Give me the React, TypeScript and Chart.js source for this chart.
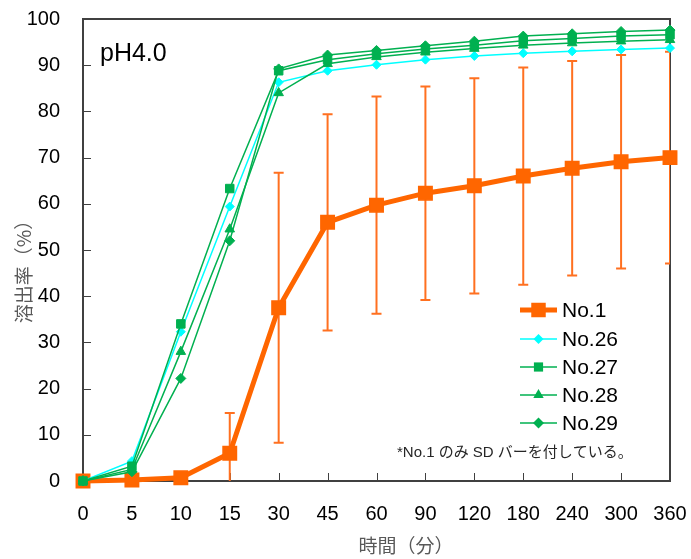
import { useEffect, useRef } from 'react';
import { Chart, registerables } from 'chart.js';

Chart.register(...registerables);

const times = ['0', '5', '10', '15', '30', '45', '60', '90', '120', '180', '240', '300', '360'];
const no1 = [0, 0.2, 0.7, 6.0, 37.5, 56.0, 59.7, 62.3, 63.9, 66.0, 67.7, 69.1, 70.0];
const no1Sd = [0, 0, 0, 8.7, 29.2, 23.4, 23.5, 23.1, 23.3, 23.5, 23.2, 23.1, 22.9];
const no26 = [0, 4.3, 32.3, 59.4, 86.3, 88.8, 90.1, 91.2, 92.0, 92.6, 93.0, 93.4, 93.7];
const no27 = [0, 3.2, 34.0, 63.3, 88.8, 91.2, 92.5, 93.5, 94.3, 95.3, 95.8, 96.3, 96.6];
const no28 = [0, 2.5, 28.0, 54.5, 84.0, 90.3, 91.8, 92.8, 93.6, 94.3, 94.8, 95.2, 95.5];
const no29 = [0, 2.0, 22.2, 52.0, 89.2, 92.2, 93.2, 94.2, 95.2, 96.3, 96.8, 97.3, 97.6];
const seriesNames = ['No.1', 'No.26', 'No.27', 'No.28', 'No.29'];

const ORANGE = '#FF6600';
const CYAN = '#00FFFF';
const GREEN = '#00B050';
const FONT = '"Liberation Sans", Arial, "Noto Sans CJK JP", sans-serif';
const JFONT = '"Noto Sans CJK JP", "Liberation Sans", sans-serif';

function drawMarker(ctx: CanvasRenderingContext2D, style: string, x: number, y: number, r: number, color: string) {
  ctx.save();
  ctx.fillStyle = color;
  ctx.beginPath();
  if (style === 'rect') {
    const s = Math.SQRT1_2 * r;
    ctx.rect(x - s, y - s, 2 * s, 2 * s);
  } else if (style === 'rectRot') {
    ctx.moveTo(x, y - r);
    ctx.lineTo(x + r, y);
    ctx.lineTo(x, y + r);
    ctx.lineTo(x - r, y);
    ctx.closePath();
  } else if (style === 'triangle') {
    ctx.moveTo(x, y - r);
    ctx.lineTo(x + r * 0.866, y + r / 2);
    ctx.lineTo(x - r * 0.866, y + r / 2);
    ctx.closePath();
  }
  ctx.fill();
  ctx.restore();
}

const decorPlugin = {
  id: 'decor',
  beforeDatasetsDraw(chart: any) {
    const { ctx, chartArea: a, scales } = chart;
    const xs = scales.x;
    const ys = scales.y;
    ctx.save();
    ctx.strokeStyle = '#404040';
    ctx.lineWidth = 2;
    ctx.strokeRect(a.left, a.top, a.right - a.left, a.bottom - a.top);
    ctx.lineWidth = 1;
    ctx.strokeStyle = '#404040';
    ys.ticks.forEach((t: any) => {
      const py = Math.round(ys.getPixelForValue(t.value)) + 0.5;
      ctx.beginPath();
      ctx.moveTo(a.left, py);
      ctx.lineTo(a.left + 8, py);
      ctx.stroke();
    });
    xs.ticks.forEach((_t: any, i: number) => {
      const px = Math.round(xs.getPixelForTick(i)) + 0.5;
      ctx.beginPath();
      ctx.moveTo(px, a.bottom);
      ctx.lineTo(px, a.bottom - 8);
      ctx.stroke();
    });
    ctx.beginPath();
    ctx.rect(a.left, a.top, a.right - a.left, a.bottom - a.top);
    ctx.clip();
    ctx.strokeStyle = '#FF7020';
    ctx.lineWidth = 2;
    no1.forEach((v, i) => {
      const sd = no1Sd[i];
      if (!sd) return;
      const px = xs.getPixelForValue(i);
      const yHi = ys.getPixelForValue(v + sd);
      const yLo = ys.getPixelForValue(v - sd);
      ctx.beginPath();
      ctx.moveTo(px, yHi);
      ctx.lineTo(px, yLo);
      ctx.moveTo(px - 5, yHi);
      ctx.lineTo(px + 5, yHi);
      ctx.moveTo(px - 5, yLo);
      ctx.lineTo(px + 5, yLo);
      ctx.stroke();
    });
    ctx.restore();
  },
  afterDraw(chart: any) {
    const { ctx, chartArea: a } = chart;
    ctx.save();
    ctx.fillStyle = '#000';
    ctx.font = `25px ${FONT}`;
    ctx.textBaseline = 'alphabetic';
    ctx.textAlign = 'left';
    ctx.fillText('pH4.0', a.left + 17, 61);
    const ds = chart.data.datasets;
    const rowY = [310, 339, 367, 395, 423];
    ds.forEach((d: any, i: number) => {
      const y = rowY[i];
      ctx.strokeStyle = d.borderColor;
      ctx.lineWidth = d.borderWidth;
      ctx.beginPath();
      ctx.moveTo(520, y);
      ctx.lineTo(557, y);
      ctx.stroke();
      drawMarker(ctx, d.pointStyle, 538.5, y, d.pointRadius + d.pointBorderWidth / 2, d.pointBackgroundColor);
      ctx.fillStyle = '#000';
      ctx.font = `21px ${FONT}`;
      ctx.textBaseline = 'middle';
      ctx.textAlign = 'left';
      ctx.fillText(seriesNames[i], 562, y + 1);
    });
    ctx.font = `15px ${FONT}`;
    ctx.fillStyle = '#262626';
    ctx.textBaseline = 'middle';
    ctx.fillText('*No.1 のみ SD バーを付している。', 397, 453);
    ctx.fillStyle = '#595959';
    ctx.font = `19px ${JFONT}`;
    ctx.textAlign = 'center';
    ctx.fillText('時間（分）', 406, 546);
    ctx.translate(24, 267);
    ctx.rotate(-Math.PI / 2);
    ctx.fillText('溶出率（%）', 0, 0);
    ctx.restore();
  },
};

export default function App() {
  const ref = useRef<HTMLCanvasElement>(null);
  useEffect(() => {
    if (!ref.current) return;
    const mk = (label: string, data: number[], color: string, width: number, style: string, r: number, bw: number, order: number) => ({
      label,
      data,
      borderColor: color,
      backgroundColor: color,
      borderWidth: width,
      pointStyle: style,
      pointRadius: r,
      pointBorderWidth: bw,
      pointBackgroundColor: color,
      pointBorderColor: color,
      tension: 0,
      clip: false as const,
      order,
    });
    const chart = new Chart(ref.current, {
      type: 'line',
      data: {
        labels: times,
        datasets: [
          mk(seriesNames[0], no1, ORANGE, 5, 'rect', 9.5, 1.5, 5),
          mk(seriesNames[1], no26, CYAN, 1.5, 'rectRot', 4.5, 1, 4),
          mk(seriesNames[2], no27, GREEN, 1.5, 'rect', 6, 1, 3),
          mk(seriesNames[3], no28, GREEN, 1.5, 'triangle', 5.5, 1, 2),
          mk(seriesNames[4], no29, GREEN, 1.5, 'rectRot', 5, 1, 1),
        ] as any,
      },
      options: {
        animation: false,
        responsive: false,
        devicePixelRatio: 1,
        layout: { padding: { top: 19, right: 21, left: 0, bottom: 0 } },
        plugins: { legend: { display: false }, tooltip: { enabled: false } },
        scales: {
          x: {
            offset: false,
            grid: { display: false, drawTicks: false },
            border: { display: false },
            ticks: { color: '#000', font: { size: 20, family: FONT }, padding: 21, maxRotation: 0, autoSkip: false },
            afterFit: (s: any) => { s.height = 78; s.paddingLeft = 0; s.paddingRight = 0; },
          },
          y: {
            min: 0,
            max: 100,
            grid: { display: false, drawTicks: false },
            border: { display: false },
            ticks: { stepSize: 10, color: '#000', font: { size: 20, family: FONT }, padding: 23 },
            afterFit: (s: any) => { s.width = 83; s.paddingTop = 0; s.paddingBottom = 0; },
          },
        },
      },
      plugins: [decorPlugin],
    });
    return () => chart.destroy();
  }, []);
  return (
    <div style={{ position: 'absolute', left: 0, top: 0, width: 691, height: 559, background: '#fff' }}>
      <canvas ref={ref} width={691} height={559} style={{ width: 691, height: 559 }} />
    </div>
  );
}
